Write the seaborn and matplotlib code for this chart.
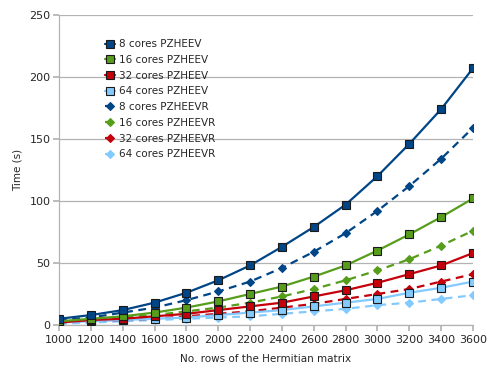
import matplotlib
matplotlib.use("Agg")
import matplotlib.pyplot as plt
import seaborn as sns
import pandas as pd

rows = [1000, 1200, 1400, 1600, 1800, 2000, 2200, 2400, 2600, 2800, 3000, 3200, 3400, 3600]
pzheev_8 = [5, 8, 12, 18, 26, 36, 48, 63, 79, 97, 120, 146, 174, 207]
pzheev_16 = [3, 5, 7, 10, 14, 19, 25, 31, 39, 48, 60, 73, 87, 102]
pzheev_32 = [2, 4, 5, 7, 9, 12, 15, 18, 23, 28, 34, 41, 48, 58]
pzheev_64 = [2, 3, 4, 5, 6, 8, 10, 12, 15, 18, 21, 26, 30, 35]
pzheevr_8 = [4, 6, 10, 14, 20, 27, 35, 46, 59, 74, 92, 112, 134, 159]
pzheevr_16 = [3, 4, 6, 8, 11, 14, 18, 23, 29, 36, 44, 53, 64, 76]
pzheevr_32 = [2, 3, 4, 5, 7, 9, 11, 14, 17, 21, 25, 29, 35, 41]
pzheevr_64 = [1, 2, 3, 4, 5, 6, 7, 9, 11, 13, 16, 18, 21, 24]

labels = ["8 cores PZHEEV", "16 cores PZHEEV", "32 cores PZHEEV", "64 cores PZHEEV",
          "8 cores PZHEEVR", "16 cores PZHEEVR", "32 cores PZHEEVR", "64 cores PZHEEVR"]
series = [pzheev_8, pzheev_16, pzheev_32, pzheev_64,
          pzheevr_8, pzheevr_16, pzheevr_32, pzheevr_64]
colors = ["#004586", "#579d1c", "#c5000b", "#83caff"] * 2

sns.set_theme(style="white")
plt.rcParams['font.family'] = ['DejaVu Sans']

fig = plt.figure(figsize=(5, 3.81), dpi=100)
ax = fig.add_axes([0.118, 0.147, 0.828, 0.814])

for i, (lab, vals) in enumerate(zip(labels, series)):
    df = pd.DataFrame({"rows": rows, "time": vals})
    solid = i < 4
    sns.lineplot(data=df, x="rows", y="time", ax=ax, color=colors[i], label=lab,
                 linewidth=1.6, linestyle="-" if solid else (0, (3.5, 2.5)),
                 marker="s" if solid else "D",
                 markersize=5.5 if solid else 4,
                 markeredgecolor="#1a1a1a" if solid else colors[i],
                 markeredgewidth=0.8, zorder=3 + (8 - i))

ax.set_xlim(1000, 3600)
ax.set_ylim(0, 250)
ax.set_xticks(rows)
ax.set_xticklabels([str(r) for r in rows])
ax.set_yticks([0, 50, 100, 150, 200, 250])
ax.yaxis.grid(True, color="#b3b3b3", linewidth=0.9)
ax.xaxis.grid(False)
for s in ["top", "right"]:
    ax.spines[s].set_visible(False)
for s in ["left", "bottom"]:
    ax.spines[s].set_color("#b3b3b3")
    ax.spines[s].set_linewidth(0.9)
ax.tick_params(axis="x", bottom=True, length=4, color="#b3b3b3", labelsize=8, pad=3)
ax.tick_params(axis="y", left=True, length=4, color="#b3b3b3", labelsize=8, pad=2)
ax.set_xlabel("No. rows of the Hermitian matrix", fontsize=7.5, labelpad=7)
ax.set_ylabel("Time (s)", fontsize=7.5, labelpad=5)

leg = ax.legend(loc="upper left", bbox_to_anchor=(0.1, 0.935), frameon=False,
                fontsize=7.5, handlelength=1.0, handletextpad=0.4,
                labelspacing=0.55, borderaxespad=0)

fig.savefig("out.png", dpi=100)
